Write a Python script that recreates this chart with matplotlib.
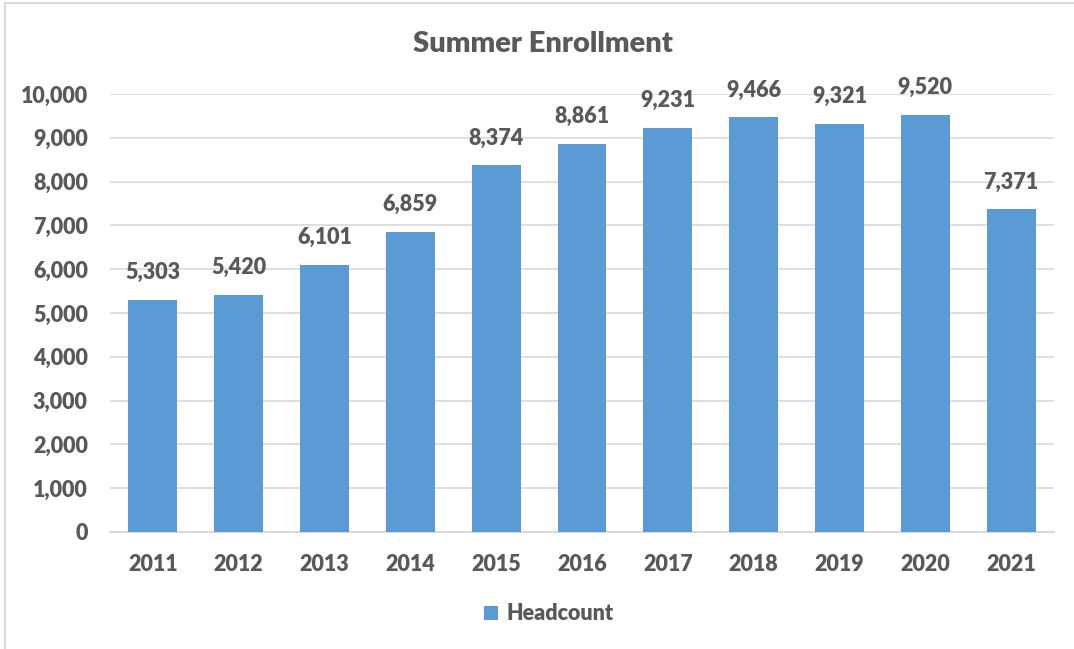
import matplotlib
matplotlib.use('Agg')
import matplotlib.pyplot as plt
from matplotlib.patches import Rectangle
from matplotlib.ticker import FuncFormatter

years = ['2011', '2012', '2013', '2014', '2015', '2016',
         '2017', '2018', '2019', '2020', '2021']
headcount = [5303, 5420, 6101, 6859, 8374, 8861, 9231, 9466, 9321, 9520, 7371]

bar_color = '#5B9BD5'
text_color = '#595959'
grid_color = '#D9D9D9'

plt.rcParams['font.family'] = ['Lato', 'DejaVu Sans']
wt = 'heavy'

fig = plt.figure(figsize=(10.74, 6.49), dpi=100)
ax = fig.add_axes([110 / 1074, 117 / 649, 944 / 1074, 438 / 649])

x = range(len(years))
bars = ax.bar(x, headcount, width=0.57, color=bar_color, label='Headcount', zorder=3)

for xi, v in zip(x, headcount):
    ax.text(xi, v + 380, f'{v:,}', ha='center', va='bottom',
            fontsize=15.5, fontweight=wt, color=text_color)

ax.set_xlim(-0.5, len(years) - 0.5)
ax.set_ylim(0, 10000)
ax.set_yticks(range(0, 10001, 1000))
ax.yaxis.set_major_formatter(FuncFormatter(lambda v, p: f'{int(v):,}'))
ax.set_xticks(list(x))
ax.set_xticklabels(years)

ax.grid(axis='y', color=grid_color, linewidth=1.2, zorder=0)
for s in ['top', 'right', 'left']:
    ax.spines[s].set_visible(False)
ax.spines['bottom'].set_color(grid_color)
ax.spines['bottom'].set_linewidth(1.5)
ax.tick_params(length=0, labelsize=15.5, labelcolor=text_color)
ax.tick_params(axis='x', pad=16)
ax.tick_params(axis='y', pad=16)
for lbl in ax.get_xticklabels() + ax.get_yticklabels():
    lbl.set_fontweight(wt)

fig.text(543 / 1074, 1 - 44 / 649, 'Summer Enrollment', ha='center', va='center',
         fontsize=21, fontweight=wt, color=text_color)

leg = fig.legend(handles=[bars], labels=['Headcount'], loc='center',
                 bbox_to_anchor=(549 / 1074, 1 - 614 / 649), frameon=False,
                 handlelength=0.65, handleheight=0.65, handletextpad=0.4,
                 prop={'size': 15.5, 'weight': wt})
for t in leg.get_texts():
    t.set_color(text_color)

# outer chart border
fig.patches.append(Rectangle((5 / 1074, -0.01), 1.1, 1 - 3 / 649 + 0.01,
                             transform=fig.transFigure, fill=False,
                             edgecolor='#D9D9D9', linewidth=1.5))

fig.savefig('out.png', dpi=100, facecolor='white')
